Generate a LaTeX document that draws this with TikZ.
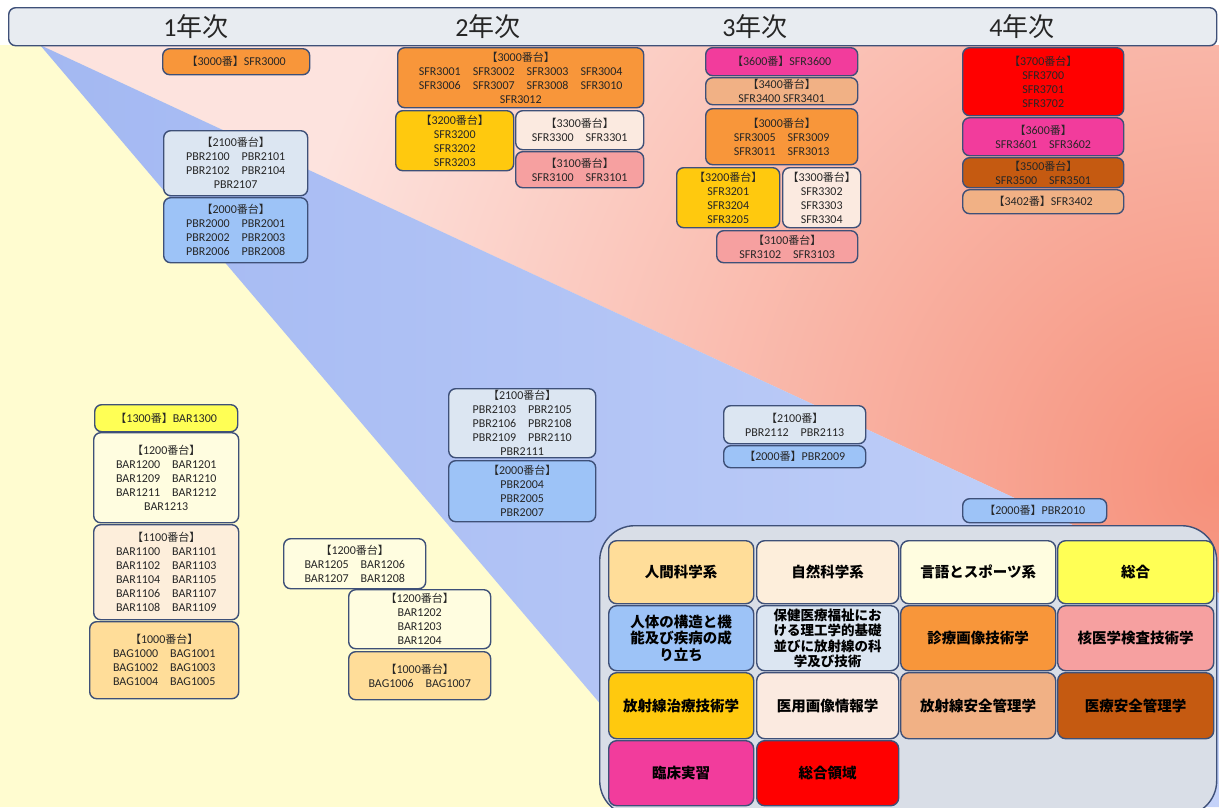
\documentclass[tikz,border=0pt]{standalone}
\usepackage{fontspec}
\setmainfont{Carlito}
\newfontfamily\jp{Noto Sans CJK JP}
\usepackage{tikz}

\definecolor{boxline}{HTML}{3E5078}
\definecolor{headfill}{HTML}{E8ECF1}
\definecolor{legfill}{HTML}{D9DEE7}
\definecolor{txt}{HTML}{262626}
\definecolor{pinkA}{HTML}{FDE3DE}
\definecolor{pinkB}{HTML}{F6907A}
\definecolor{blueA}{HTML}{A3B8F2}
\definecolor{blueB}{HTML}{C4D2F9}
\definecolor{yelA}{HTML}{FFFCD0}
\definecolor{c1000}{HTML}{FFDD99}
\definecolor{c1100}{HTML}{FDEEDB}
\definecolor{c1200}{HTML}{FFFDE0}
\definecolor{c1300}{HTML}{FFFF55}
\definecolor{c2000}{HTML}{9DC3F7}
\definecolor{c2100}{HTML}{DCE6F2}
\definecolor{c3000}{HTML}{F8963A}
\definecolor{c3100}{HTML}{F6A0A0}
\definecolor{c3200}{HTML}{FFC90E}
\definecolor{c3300}{HTML}{FBEAE0}
\definecolor{c3400}{HTML}{F1B185}
\definecolor{c3500}{HTML}{C55A11}
\definecolor{c3600}{HTML}{F23C9C}
\definecolor{c3700}{HTML}{FF0000}

\newcommand\jpsm{\jp\fontsize{11}{14}\selectfont}
\newcommand\bandai[1]{{\jpsm【}#1{\jpsm 番台】}}
\newcommand\ban[1]{{\jpsm【}#1{\jpsm 番】}}

\begin{document}
\begin{tikzpicture}[x=1pt,y=-1pt,
  course/.style={draw=boxline, line width=1.4pt, rounded corners=7pt, anchor=north west,
    align=center, inner sep=0pt, text=txt, font=\fontsize{12}{14}\selectfont},
  cell/.style={draw=boxline, line width=1.4pt, rounded corners=8pt, anchor=north west,
    align=center, inner sep=0pt, text=black, font=\jp\bfseries\fontsize{14.5}{16.5}\selectfont},
  year/.style={text=txt, font=\fontsize{26}{30}\selectfont}]
\useasboundingbox (0,0) rectangle (1219,807);

% background
\fill[yelA] (0,45) rectangle (1219,807);
\begin{scope}
\clip (40,45) -- (1219,593) -- (1219,45) -- cycle;
\fill[pinkA] (0,45) rectangle (1219,807);
\shade[inner color=pinkB, outer color=pinkA] (1219,480) circle (950);
\end{scope}
\shade[left color=blueA, right color=blueB] (40,45) -- (1219,593) -- (1219,807) -- (688,807) -- cycle;

% header
\node[draw=boxline, fill=headfill, line width=1.4pt, rounded corners=7pt, anchor=north west,
  minimum width=1208, minimum height=38, inner sep=0pt] (headbar) at (8,7) {};
\node[year] (y1) at (196,27) {1{\jp 年次}};
\node[year] (y2) at (488,27) {2{\jp 年次}};
\node[year] (y3) at (755,27) {3{\jp 年次}};
\node[year] (y4) at (1022,27) {4{\jp 年次}};

% 1st year, upper
\node[course, fill=c3000, minimum width=147, minimum height=26] (sfrA) at (162,48) {\ban{3000}SFR3000};
\node[course, fill=c2100, minimum width=144, minimum height=65] (pbrA) at (163,130)
  {\bandai{2100}\\PBR2100\quad PBR2101\\PBR2102\quad PBR2104\\PBR2107};
\node[course, fill=c2000, minimum width=144, minimum height=65] (pbrB) at (163,197)
  {\bandai{2000}\\PBR2000\quad PBR2001\\PBR2002\quad PBR2003\\PBR2006\quad PBR2008};

% 2nd year, upper
\node[course, fill=c3000, minimum width=246, minimum height=60] (sfrB) at (397,47)
  {\bandai{3000}\\SFR3001\quad SFR3002\quad SFR3003\quad SFR3004\\SFR3006\quad SFR3007\quad SFR3008\quad SFR3010\\SFR3012};
\node[course, fill=c3200, minimum width=118, minimum height=60] (sfrC) at (395,110)
  {\bandai{3200}\\SFR3200\\SFR3202\\SFR3203};
\node[course, fill=c3300, minimum width=128, minimum height=39] (sfrD) at (515,110)
  {\bandai{3300}\\SFR3300\quad SFR3301};
\node[course, fill=c3100, minimum width=128, minimum height=36] (sfrE) at (515,151)
  {\bandai{3100}\\SFR3100\quad SFR3101};

% 3rd year, upper
\node[course, fill=c3600, minimum width=152, minimum height=28] (sfrF) at (705,47) {\ban{3600}SFR3600};
\node[course, fill=c3400, minimum width=152, minimum height=27] (sfrG) at (705,77)
  {\bandai{3400}\\SFR3400\ SFR3401};
\node[course, fill=c3000, minimum width=152, minimum height=56] (sfrH) at (705,108)
  {\bandai{3000}\\SFR3005\quad SFR3009\\SFR3011\quad SFR3013};
\node[course, fill=c3200, minimum width=103, minimum height=60] (sfrI) at (676,167)
  {\bandai{3200}\\SFR3201\\SFR3204\\SFR3205};
\node[course, fill=c3300, minimum width=78, minimum height=60] (sfrJ) at (782,167)
  {\bandai{3300}\\SFR3302\\SFR3303\\SFR3304};
\node[course, fill=c3100, minimum width=141, minimum height=32] (sfrK) at (716,230)
  {\bandai{3100}\\SFR3102\quad SFR3103};

% 4th year, upper
\node[course, fill=c3700, minimum width=161, minimum height=68] (sfrL) at (962,47)
  {\bandai{3700}\\SFR3700\\SFR3701\\SFR3702};
\node[course, fill=c3600, minimum width=161, minimum height=38] (sfrM) at (962,117)
  {\ban{3600}\\SFR3601\quad SFR3602};
\node[course, fill=c3500, minimum width=161, minimum height=30] (sfrN) at (962,157)
  {\bandai{3500}\\SFR3500\quad SFR3501};
\node[course, fill=c3400, minimum width=161, minimum height=24] (sfrO) at (962,189) {\ban{3402}SFR3402};

% 1st year, lower
\node[course, fill=c1300, minimum width=143, minimum height=27] (barA) at (94,404) {\ban{1300}BAR1300};
\node[course, fill=c1200, minimum width=145, minimum height=90] (barB) at (93,432)
  {\bandai{1200}\\BAR1200\quad BAR1201\\BAR1209\quad BAR1210\\BAR1211\quad BAR1212\\BAR1213};
\node[course, fill=c1100, minimum width=145, minimum height=95] (barC) at (93,524)
  {\bandai{1100}\\BAR1100\quad BAR1101\\BAR1102\quad BAR1103\\BAR1104\quad BAR1105\\BAR1106\quad BAR1107\\BAR1108\quad BAR1109};
\node[course, fill=c1000, minimum width=149, minimum height=77] (bagA) at (89,621)
  {\bandai{1000}\\BAG1000\quad BAG1001\\BAG1002\quad BAG1003\\BAG1004\quad BAG1005};

% 2nd year, lower
\node[course, fill=c1200, minimum width=142, minimum height=50] (barD) at (283,538)
  {\bandai{1200}\\BAR1205\quad BAR1206\\BAR1207\quad BAR1208};
\node[course, fill=c1200, minimum width=142, minimum height=59] (barE) at (348,589)
  {\bandai{1200}\\BAR1202\\BAR1203\\BAR1204};
\node[course, fill=c1000, minimum width=142, minimum height=48] (bagB) at (348,651)
  {\bandai{1000}\\BAG1006\quad BAG1007};
\node[course, fill=c2100, minimum width=147, minimum height=69] (pbrC) at (448,388)
  {\bandai{2100}\\PBR2103\quad PBR2105\\PBR2106\quad PBR2108\\PBR2109\quad PBR2110\\PBR2111};
\node[course, fill=c2000, minimum width=147, minimum height=61] (pbrD) at (448,460)
  {\bandai{2000}\\PBR2004\\PBR2005\\PBR2007};

% 3rd year, middle
\node[course, fill=c2100, minimum width=142, minimum height=38] (pbrE) at (723,405)
  {\ban{2100}\\PBR2112\quad PBR2113};
\node[course, fill=c2000, minimum width=142, minimum height=22] (pbrF) at (723,445) {\ban{2000}PBR2009};
\node[course, fill=c2000, minimum width=144, minimum height=24] (pbrG) at (962,498) {\ban{2000}PBR2010};

% legend
\node[draw=boxline, fill=legfill, line width=1.4pt, rounded corners=35pt, anchor=north west,
  minimum width=617, minimum height=290, inner sep=0pt] (legend) at (599,525) {};
\node[cell, fill=c1000, minimum width=145, minimum height=63] (lgA) at (608,540) {人間科学系};
\node[cell, fill=c1100, minimum width=142, minimum height=63] (lgB) at (756,540) {自然科学系};
\node[cell, fill=c1200, minimum width=155, minimum height=63] (lgC) at (900,540) {言語とスポーツ系};
\node[cell, fill=c1300, minimum width=156, minimum height=63] (lgD) at (1057,540) {総合};
\node[cell, fill=c2000, minimum width=145, minimum height=65] (lgE) at (608,605) {人体の構造と機\\能及び疾病の成\\り立ち};
\node[cell, fill=c2100, minimum width=142, minimum height=65, font=\jp\bfseries\fontsize{13.5}{15.5}\selectfont] (lgF) at (756,605)
  {保健医療福祉にお\\ける理工学的基礎\\並びに放射線の科\\学及び技術};
\node[cell, fill=c3000, minimum width=155, minimum height=65] (lgG) at (900,605) {診療画像技術学};
\node[cell, fill=c3100, minimum width=156, minimum height=65] (lgH) at (1057,605) {核医学検査技術学};
\node[cell, fill=c3200, minimum width=145, minimum height=66] (lgI) at (608,672) {放射線治療技術学};
\node[cell, fill=c3300, minimum width=142, minimum height=66] (lgJ) at (756,672) {医用画像情報学};
\node[cell, fill=c3400, minimum width=155, minimum height=66] (lgK) at (900,672) {放射線安全管理学};
\node[cell, fill=c3500, minimum width=156, minimum height=66] (lgL) at (1057,672) {医療安全管理学};
\node[cell, fill=c3600, minimum width=145, minimum height=65] (lgM) at (608,740) {臨床実習};
\node[cell, fill=c3700, minimum width=142, minimum height=65] (lgN) at (756,740) {総合領域};
\end{tikzpicture}
\end{document}
